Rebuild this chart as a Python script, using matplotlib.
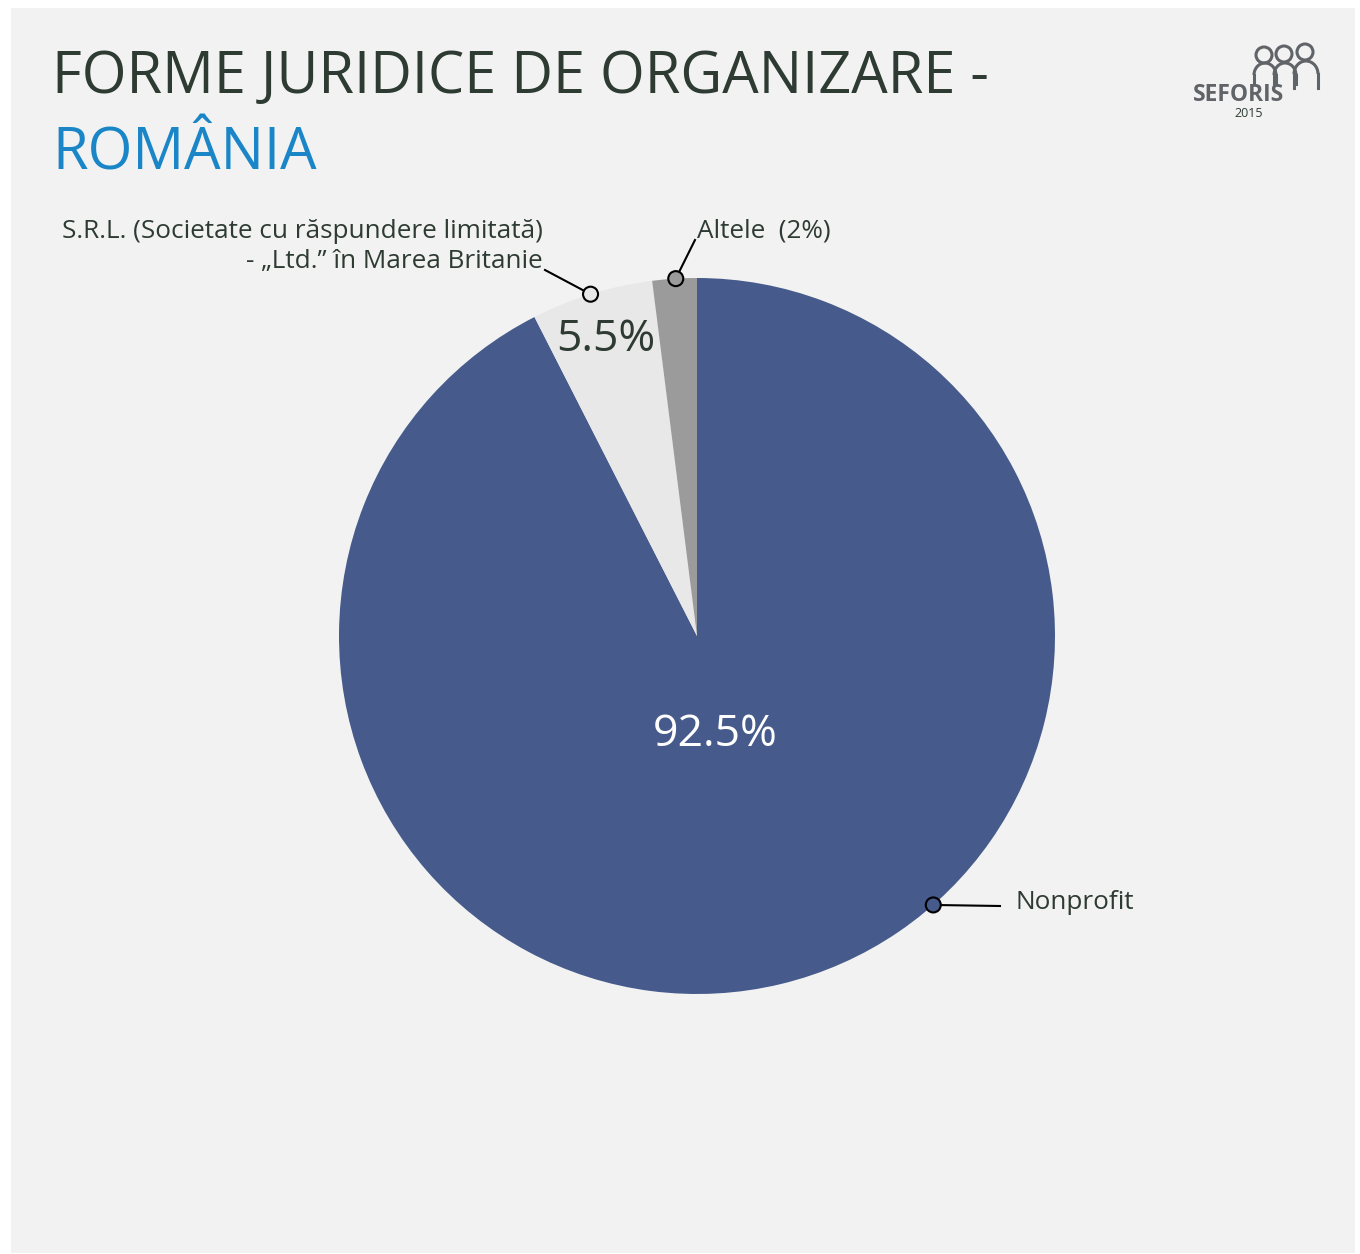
import numpy as np
import matplotlib
matplotlib.use("Agg")
import matplotlib.pyplot as plt
from matplotlib.patches import Rectangle, Circle, Arc

# Forme juridice de organizare - România
categories = ["Nonprofit", "S.R.L. (Societate cu răspundere limitată)\n- „Ltd.” în Marea Britanie", "Altele  (2%)"]
shares = [92.5, 5.5, 2.0]
pct_labels = ["92.5%", "5.5%", ""]
colors = ["#465b8c", "#e8e8e8", "#9b9b9b"]

W, H = 1360, 1254
FONT = "Open Sans"
DARK = "#2e3b33"

fig = plt.figure(figsize=(W / 100, H / 100), dpi=100)
fig.patch.set_facecolor("white")
ax = fig.add_axes([0, 0, 1, 1])


def Y(y):
    return H - y


# light panel
ax.add_patch(Rectangle((11, Y(1253)), 1344, 1245, facecolor="#f2f2f2", edgecolor="none", zorder=0))

# title
ax.text(52, Y(93), "FORME JURIDICE DE ORGANIZARE -", fontsize=41.5, color=DARK,
        family=FONT, ha="left", va="baseline")
ax.text(52, Y(170), "ROMÂNIA", fontsize=41.5, color="#1a86c7",
        family=FONT, ha="left", va="baseline")

# pie
cx, cy, R = 697, Y(636), 358
wedges, texts = ax.pie(shares, colors=colors, startangle=90, counterclock=False,
                       center=(cx, cy), radius=R, frame=True,
                       wedgeprops=dict(linewidth=0))
ax.set_xlim(0, W)
ax.set_ylim(0, H)
ax.axis("off")
ax.set_aspect("equal")

# percentage labels
ax.text(715, Y(735), pct_labels[0], fontsize=32, color="white", family=FONT,
        ha="center", va="center")
ax.text(606, Y(340), pct_labels[1], fontsize=32, color=DARK, family=FONT,
        ha="center", va="center")


# callouts: marker on slice edge, leader line, label
def callout(angle_deg, color, line_end, text_xy, text, ha):
    a = np.deg2rad(angle_deg)
    px, py = cx + R * np.cos(a), cy + R * np.sin(a)
    ax.plot([px, line_end[0]], [py, Y(line_end[1])], color="black", lw=1.5, zorder=4)
    ax.add_patch(Circle((px, py), 7.5, facecolor=color, edgecolor="black", lw=1.5, zorder=5))
    ax.text(text_xy[0], Y(text_xy[1]), text, fontsize=18.8, color=DARK, family=FONT,
            ha=ha, va="baseline", linespacing=1.25, multialignment="right")


callout(-48.7, colors[0], (1000, 906), (1016, 909), categories[0], "left")
callout(107.3, colors[1], (545, 270), (543, 268), categories[1], "right")
callout(93.4, colors[2], (695, 240), (697, 238), categories[2], "left")

# logo
LOGO = "#606367"
ax.text(1239, Y(101), "SEFORIS", fontsize=16.5, fontweight="bold", color=LOGO,
        family=FONT, ha="center", va="baseline", zorder=7)
ax.text(1249, Y(117), "2015", fontsize=9, color=DARK, family=FONT,
        ha="center", va="baseline")
for hx, hy in [(1264, 55), (1284, 54), (1305, 52)]:
    ax.add_patch(Circle((hx, Y(hy)), 8, facecolor="none", edgecolor=LOGO, lw=2.2, zorder=6))
for bx, by, bw, bh, bottom in [(1265, 75, 22, 24, 84), (1285, 75, 22, 24, 84), (1306, 74, 24, 26, 88)]:
    ax.add_patch(Arc((bx, Y(by)), bw, bh, theta1=0, theta2=180, edgecolor=LOGO, lw=2.2, zorder=6))
    ax.plot([bx - bw / 2, bx - bw / 2], [Y(by), Y(bottom)], color=LOGO, lw=2.2, zorder=6)
    ax.plot([bx + bw / 2, bx + bw / 2], [Y(by), Y(bottom)], color=LOGO, lw=2.2, zorder=6)

fig.savefig("out.png", dpi=100, facecolor=fig.get_facecolor())
